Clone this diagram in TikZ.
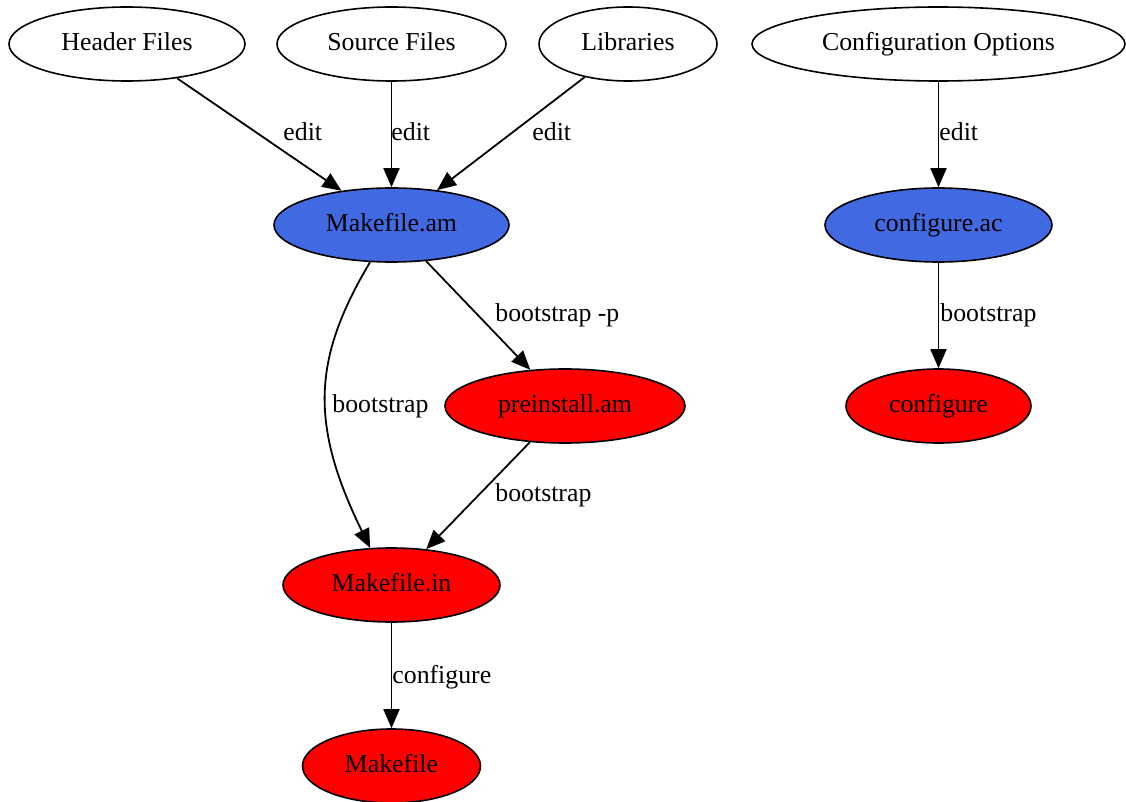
\documentclass[tikz,border=0pt]{standalone}
\usepackage{fontspec}
\setmainfont{Liberation Serif}
\usetikzlibrary{shapes.geometric,arrows.meta}
\definecolor{rblue}{RGB}{65,105,225}
\definecolor{gvred}{RGB}{255,0,0}
\begin{document}
\begin{tikzpicture}[x=0.5pt,y=-0.5pt,
  every node/.style={font=\fontsize{12.9}{15}\selectfont},
  nd/.style={ellipse,draw=black,line width=0.8pt,inner sep=0pt,minimum height=37pt,text height=0.69em,text depth=0pt},
  bnode/.style={nd,fill=rblue},
  rnode/.style={nd,fill=gvred},
  conn/.style={draw,line width=0.9pt,-{Triangle[length=9.5pt,width=8pt]}},
  lbl/.style={inner sep=0pt,anchor=base west}]
\useasboundingbox (0,0) rectangle (1126,802);
% nodes
\node[nd,minimum width=118pt] (hdr) at (127,44) {Header Files};
\node[nd,minimum width=114.5pt] (src) at (391.5,44) {Source Files};
\node[nd,minimum width=89pt] (lib) at (628,44) {Libraries};
\node[nd,minimum width=186.5pt] (cfo) at (938.5,44) {Configuration Options};
\node[bnode,minimum width=117.5pt] (mam) at (391.5,225) {Makefile.am};
\node[bnode,minimum width=113.5pt] (cac) at (938.5,225) {configure.ac};
\node[rnode,minimum width=120pt] (pre) at (565,406) {preinstall.am};
\node[rnode,minimum width=92.5pt] (cfg) at (938.5,406) {configure};
\node[rnode,minimum width=108.5pt] (min) at (391.5,585) {Makefile.in};
\node[rnode,minimum width=89pt] (mk) at (391.5,766) {Makefile};
% connectors
\draw[conn] (hdr) -- (mam);
\draw[conn] (src) -- (mam);
\draw[conn] (lib) -- (mam);
\draw[conn] (cfo) -- (cac);
\draw[conn] (cac) -- (cfg);
\draw[conn] (mam) -- (pre);
\draw[conn] (pre) -- (min);
\draw[conn] (min) -- (mk);
\draw[conn] (mam.240) .. controls (313,358) and (309,423) .. (min.120);
% labels
\node[lbl] (l1) at (283,141) {edit};
\node[lbl] (l2) at (391,141) {edit};
\node[lbl] (l3) at (532,141) {edit};
\node[lbl] (l4) at (939,141) {edit};
\node[lbl] (l5) at (495,322) {bootstrap -p};
\node[lbl] (l6) at (332,413) {bootstrap};
\node[lbl] (l7) at (495,502) {bootstrap};
\node[lbl] (l8) at (392,683) {configure};
\node[lbl] (l9) at (940,322) {bootstrap};
\end{tikzpicture}
\end{document}
